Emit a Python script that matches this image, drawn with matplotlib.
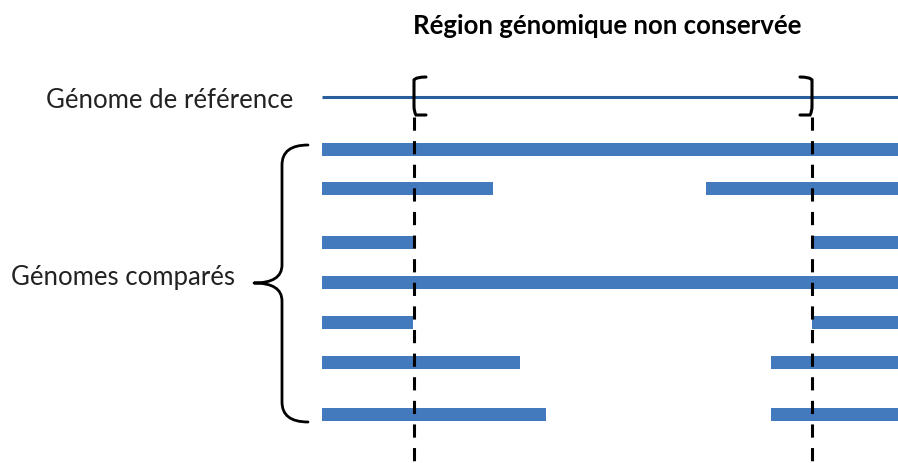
import numpy as np
import matplotlib
matplotlib.use("Agg")
from matplotlib import pyplot as plt
from matplotlib.path import Path
from matplotlib.patches import PathPatch

# figure is laid out in pixel-like units (x to the right, y downwards)
W, H = 898, 463

# compared genomes: row centre and the conserved segments (start, end)
row_y = [149, 188, 242, 282, 322, 362, 414]
segments = [
    [(322, 898)],
    [(322, 493), (706, 898)],
    [(322, 413), (812, 898)],
    [(322, 898)],
    [(322, 413), (812, 898)],
    [(322, 520), (771, 898)],
    [(322, 546), (771, 898)],
]
ref_y = 97
ref_span = (322, 898)
region_bounds = [414, 812]  # non conserved region limits

title = "Région génomique non conservée"
label_ref = "Génome de référence"
label_cmp = "Génomes comparés"

bar_color = "#4379BD"
ref_color = "#2A5D9C"

plt.rcParams["font.family"] = ["Lato", "DejaVu Sans"]
plt.rcParams["lines.scale_dashes"] = False

fig = plt.figure(figsize=(W / 100, H / 100), dpi=100)
ax = fig.add_axes([0, 0, 1, 1])
ax.set_xlim(0, W)
ax.set_ylim(H, 0)
ax.axis("off")

# reference genome
ax.plot(ref_span, [ref_y, ref_y], color=ref_color, lw=2.2, solid_capstyle="butt")

# compared genomes
for y, segs in zip(row_y, segments):
    for x0, x1 in segs:
        ax.broken_barh([(x0, x1 - x0)], (y - 6.5, 13), facecolors=bar_color)

# dashed limits of the region
for x in region_bounds:
    ax.plot([x, x], [117, H], color="black", lw=2.2, linestyle=(0, (9.5, 7.5)),
            solid_capstyle="butt", zorder=3)

# small brackets around the reference line
def bracket(x, side):
    d = 12 * side
    verts = [(x + d, 77), (x + 2 * side, 77), (x, 80), (x, 86),
             (x, 106), (x, 112), (x + 2 * side, 115), (x + d, 115)]
    codes = [Path.MOVETO, Path.CURVE3, Path.CURVE3, Path.LINETO,
             Path.LINETO, Path.CURVE3, Path.CURVE3, Path.LINETO]
    ax.add_patch(PathPatch(Path(verts, codes), fill=False, lw=2.2,
                           edgecolor="black", capstyle="round", zorder=4))

bracket(region_bounds[0], 1)
bracket(region_bounds[1], -1)

# curly brace for the compared genomes
top, bot, tip = 145, 422, 283
xe, xv, xt = 308, 282, 254
verts = [(xe, top), (xv, top), (xv, top + 20),
         (xv, tip - 18), (xv, tip), (xt, tip),
         (xv, tip), (xv, tip + 18),
         (xv, bot - 20), (xv, bot), (xe, bot)]
codes = [Path.MOVETO, Path.CURVE3, Path.CURVE3,
         Path.LINETO, Path.CURVE3, Path.CURVE3,
         Path.CURVE3, Path.CURVE3,
         Path.LINETO, Path.CURVE3, Path.CURVE3]
ax.add_patch(PathPatch(Path(verts, codes), fill=False, lw=2.0,
                       edgecolor="black", capstyle="round", joinstyle="round"))

# texts
ax.text(607, 26, title, ha="center", va="center", fontsize=18.5, fontweight="bold",
        color="black")
ax.text(170, 101, label_ref, ha="center", va="center", fontsize=18.5, color="#222222")
ax.text(123, 278, label_cmp, ha="center", va="center", fontsize=18.5, color="#222222")

fig.savefig("out.png", dpi=100)
